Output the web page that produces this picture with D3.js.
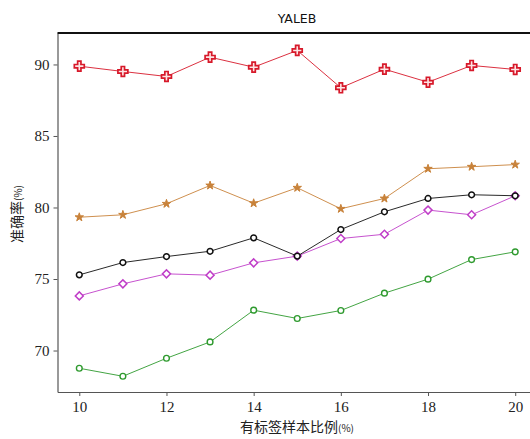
<!DOCTYPE html>
<html>
<head>
<meta charset="utf-8">
<script src="https://cdn.jsdelivr.net/npm/d3@7"></script>
<style>
  html, body { margin: 0; padding: 0; background: #fff; }
  svg { display: block; }
</style>
</head>
<body>
<svg id="chart" width="530" height="439"></svg>
<script>
// Labelled-sample ratio (%) on the x axis
const ratios = [10, 11, 12, 13, 14, 15, 16, 17, 18, 19, 20];
const xTicks = [10, 12, 14, 16, 18, 20];
const yTicks = [70, 75, 80, 85, 90];

// Accuracy (%) for each method
const redSeries     = [89.88, 89.51, 89.16, 90.51, 89.81, 90.98, 88.37, 89.67, 88.76, 89.93, 89.65];
const orangeSeries  = [79.32, 79.49, 80.26, 81.54, 80.30, 81.38, 79.91, 80.63, 82.71, 82.85, 83.00];
const blackSeries   = [75.29, 76.15, 76.57, 76.94, 77.88, 76.60, 78.46, 79.70, 80.63, 80.89, 80.82];
const magentaSeries = [73.82, 74.66, 75.36, 75.27, 76.13, 76.60, 77.83, 78.13, 79.82, 79.49, 80.82];
const greenSeries   = [68.76, 68.20, 69.46, 70.60, 72.82, 72.24, 72.80, 74.01, 74.99, 76.36, 76.90];

const series = [
  { values: greenSeries,   color: "#2e9a2e", symbol: d3.symbolCircle, size: 26, rot: 0,  fill: "#fff",    width: 1.4 },
  { values: magentaSeries, color: "#c03ec8", symbol: d3.symbolSquare, size: 32, rot: 45, fill: "#fff",    width: 1.5 },
  { values: blackSeries,   color: "#111111", symbol: d3.symbolCircle, size: 26, rot: 0,  fill: "#fff",    width: 1.5 },
  { values: orangeSeries,  color: "#c8823a", symbol: d3.symbolStar,   size: 22, rot: 0,  fill: "#c8823a", width: 1 },
  { values: redSeries,     color: "#d7192a", symbol: d3.symbolCross,  size: 55, rot: 0,  fill: "#fde4e4", width: 1.7 }
];

const svg = d3.select("#chart");

const x = d3.scaleLinear().domain([9.5, 20.5]).range([57.5, 537]);
const y = d3.scaleLinear().domain([67.1, 92.2]).range([392, 33]);

// Axes
const xAxis = svg.append("g")
  .attr("transform", `translate(0,${y(67.1)})`)
  .call(d3.axisBottom(x).tickValues(xTicks).tickSize(4).tickSizeOuter(0).tickPadding(5));
const yAxis = svg.append("g")
  .attr("transform", `translate(${x(9.5)},0)`)
  .call(d3.axisLeft(y).tickValues(yTicks).tickSize(4).tickSizeOuter(0).tickPadding(4));

[xAxis, yAxis].forEach(g => {
  g.select(".domain").attr("stroke", "#555").attr("stroke-width", 1.2);
  g.selectAll(".tick line").attr("stroke", "#555");
  g.selectAll(".tick text")
    .attr("fill", "#222")
    .style("font-family", "'Liberation Serif', 'DejaVu Serif', serif")
    .style("font-size", "15px");
});

// Top frame line
svg.append("line")
  .attr("x1", x(9.5)).attr("x2", 530)
  .attr("y1", y(92.2)).attr("y2", y(92.2))
  .attr("stroke", "#111").attr("stroke-width", 1.8);

// Lines and markers
const line = d3.line().x((d, i) => x(ratios[i])).y(d => y(d));

series.forEach(s => {
  svg.append("path")
    .datum(s.values)
    .attr("d", line)
    .attr("fill", "none")
    .attr("stroke", s.color)
    .attr("stroke-width", 0.9);

  svg.append("g").selectAll("path")
    .data(s.values)
    .join("path")
    .attr("transform", (d, i) => `translate(${x(ratios[i])},${y(d)}) rotate(${s.rot})`)
    .attr("d", d3.symbol().type(s.symbol).size(s.size))
    .attr("fill", s.fill)
    .attr("stroke", s.color)
    .attr("stroke-width", s.width);
});

// Title
svg.append("text")
  .attr("x", 297).attr("y", 23)
  .attr("text-anchor", "middle")
  .style("font-family", "'DejaVu Sans', sans-serif")
  .style("font-size", "12.5px")
  .attr("fill", "#111")
  .text("YALEB");

// Axis titles
const xt = svg.append("text")
  .attr("x", 297).attr("y", 432)
  .attr("text-anchor", "middle")
  .style("font-family", "'Noto Sans CJK SC', sans-serif")
  .style("font-size", "14px")
  .attr("fill", "#222");
xt.append("tspan").text("有标签样本比例");
xt.append("tspan").style("font-size", "10px").text("(%)");

const yt = svg.append("text")
  .attr("transform", `translate(22,214) rotate(-90)`)
  .attr("text-anchor", "middle")
  .style("font-family", "'Noto Sans CJK SC', sans-serif")
  .style("font-size", "14px")
  .attr("fill", "#222");
yt.append("tspan").text("准确率");
yt.append("tspan").style("font-size", "10px").text("(%)");
</script>
</body>
</html>
